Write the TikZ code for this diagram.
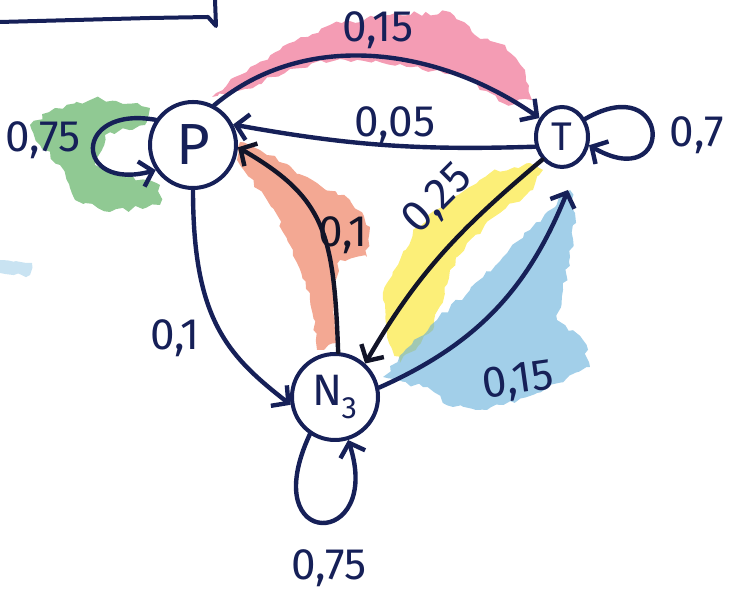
\documentclass[tikz,border=0pt]{standalone}
\usepackage{fontspec}
\setmainfont{Fira Sans}
\usetikzlibrary{arrows.meta,shapes.geometric,decorations.pathmorphing}
\definecolor{ink}{RGB}{22,32,88}
\definecolor{inkb}{RGB}{18,20,40}
\definecolor{pinkh}{RGB}{236,90,130}
\definecolor{greenh}{RGB}{70,165,75}
\definecolor{redh}{RGB}{235,110,75}
\definecolor{yellowh}{RGB}{250,228,30}
\definecolor{blueh}{RGB}{100,175,218}
\begin{document}
\pgfmathsetseed{7}
\begin{tikzpicture}[x=1pt,y=1pt,
  state/.style={draw=ink,line width=4pt,circle,inner sep=0pt,text=ink},
  edge/.style={draw=ink,line width=4.4pt,line cap=round,
    -{Straight Barb[length=12pt,width=26pt]}},
  lbl/.style={text=ink,font=\fontsize{44}{48}\selectfont,inner sep=0pt},
  hatch/.style={decorate,decoration={random steps,segment length=6pt,amplitude=2.5pt},
    fill opacity=0.6,draw=none}
]
\useasboundingbox (0,0) rectangle (742,604);
% coloured hatching
\fill[hatch,pinkh] (212,507) -- (240,529) -- (280,554) -- (330,579) -- (390,589) -- (450,592)
  -- (475,569) -- (505,559) -- (525,534) -- (532,504) -- (505,500) -- (460,528) -- (400,540)
  -- (340,545) -- (290,535) -- (245,515) -- cycle;
\fill[hatch,greenh] (55,496) -- (100,506) -- (150,496) -- (145,479) -- (105,469) -- (95,439)
  -- (120,429) -- (160,419) -- (160,399) -- (110,392) -- (75,404) -- (60,439) -- (40,459)
  -- (30,479) -- cycle;
\fill[hatch,redh] (237,444) -- (267,404) -- (293,354) -- (310,304) -- (317,254) -- (337,261)
  -- (333,321) -- (340,344) -- (367,347) -- (370,377) -- (350,404) -- (317,421) -- (283,441)
  -- (260,454) -- (240,462) -- cycle;
\fill[hatch,yellowh] (530,441) -- (490,431) -- (453,407) -- (417,377) -- (400,344) -- (387,321)
  -- (383,304) -- (387,267) -- (400,241) -- (433,274) -- (450,334) -- (467,361) -- (500,391)
  -- (533,414) -- (543,434) -- cycle;
\fill[hatch,blueh] (570,414) -- (530,374) -- (503,347) -- (470,314) -- (437,284) -- (403,251)
  -- (383,227) -- (423,217) -- (453,197) -- (487,194) -- (537,211) -- (590,237) -- (583,264)
  -- (557,284) -- (563,314) -- (570,347) -- (575,391) -- cycle;
\fill[hatch,blueh,fill opacity=0.35] (0,344) -- (32,341) -- (30,329) -- (0,331) -- cycle;
% corner stroke at top left
\draw[ink,line width=4pt,line cap=round,line join=round]
  (0,582) -- (150,586) -- (208,587) -- (216,578) -- (215,604);
% states
\node[state,minimum size=86pt,font=\fontsize{58}{58}\selectfont] (P) at (193,459) {P};
\node[state,shape=ellipse,minimum width=52pt,minimum height=60pt,
  font=\fontsize{40}{40}\selectfont] (T) at (562,467) {T};
\node[state,minimum size=86pt,font=\fontsize{44}{44}\selectfont] (N) at (335,207)
  {N\kern-1pt\textsubscript{3}};
\coordinate (Tb) at (568,414);
% transitions
\draw[edge] (P.62) to[out=40,in=145,looseness=0.95] (T.140);
\draw[edge] (T.200) to[bend left=6] (P.27);
\draw[edge] (P.146) .. controls +(170:85) and +(195:85) .. (P.214);
\draw[edge] (T.38) .. controls +(30:100) and +(-30:100) .. (T.-17);
\draw[edge,draw=inkb] (N.86) .. controls +(92:120) and +(-30:100) .. (P.-3);
\draw[edge] (P.-90) .. controls +(-90:130) and +(142:80) .. (N.190);
\draw[edge,draw=inkb] (T.229) to[out=220,in=60] (N.48);
\draw[edge] (N.12) to[out=24,in=248] (Tb);
\draw[edge] (N.-124) .. controls +(-115:130) and +(-72:115) .. (N.-73);
% labels
\node[lbl] (l1) at (378,574) {0,15};
\node[lbl] (l2) at (395,479) {0,05};
\node[lbl] (l3) at (43,464) {0,75};
\node[lbl] (l4) at (697,469) {0,7};
\node[lbl,text=inkb] (l5) at (343,369) {0,1};
\node[lbl] (l6) at (175,266) {0,1};
\node[lbl,rotate=45] (l7) at (438,404) {0,25};
\node[lbl,rotate=8] (l8) at (518,222) {0,15};
\node[lbl] (l9) at (329,36) {0,75};
\end{tikzpicture}
\end{document}
